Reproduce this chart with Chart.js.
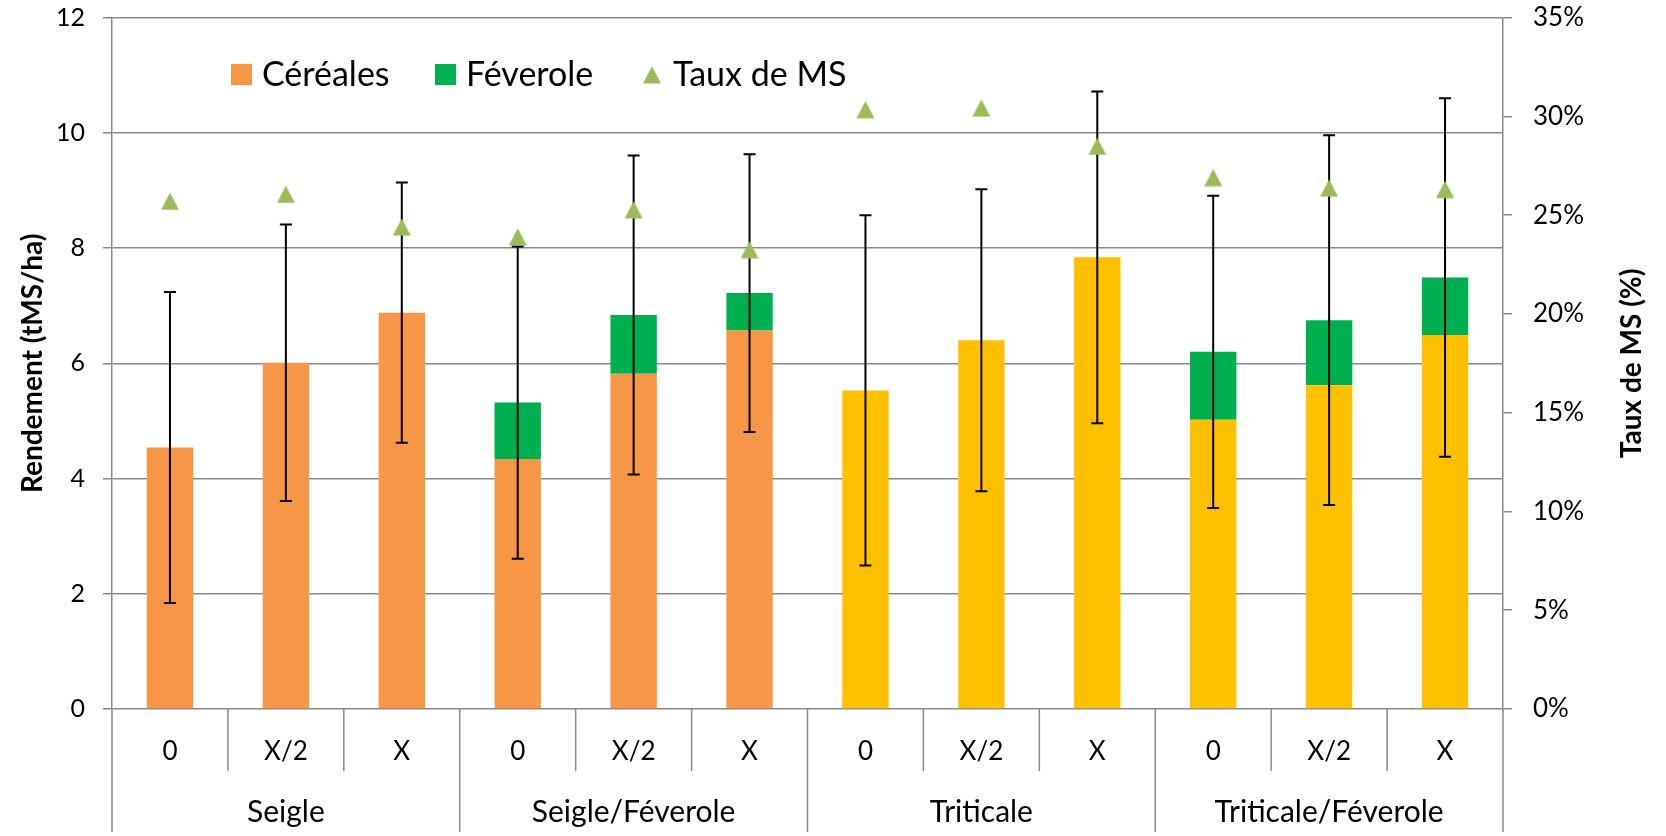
<!DOCTYPE html>
<html>
<head>
<meta charset="utf-8">
<script src="https://cdn.jsdelivr.net/npm/chart.js@4.4.0/dist/chart.umd.min.js"></script>
<style>
  html, body { margin: 0; padding: 0; background: #fff; }
  #wrap { width: 1666px; height: 836px; }
</style>
</head>
<body>
<div id="wrap"><canvas id="myChart"></canvas></div>
<script>
// categories
const groups = ['Seigle', 'Seigle/Féverole', 'Triticale', 'Triticale/Féverole'];
const doses = ['0', 'X/2', 'X'];

// rendement (tMS/ha), stacked
const cereales = [4.54, 6.01, 6.88, 4.34, 5.82, 6.57, 5.53, 6.40, 7.84, 5.02, 5.62, 6.49];
const feverole = [null, null, null, 0.98, 1.02, 0.65, null, null, null, 1.18, 1.13, 1.00];
// error bar half-length on the total
const ecartType = [2.70, 2.40, 2.26, 2.71, 2.77, 2.41, 3.04, 2.62, 2.88, 2.71, 3.21, 3.11];
// taux de MS (%)
const tauxMS = [25.7, 26.05, 24.4, 23.9, 25.27, 23.25, 30.34, 30.42, 28.48, 26.9, 26.37, 26.3];

const groupColors = ['#F79646', '#F79646', '#FFC000', '#FFC000'];
const GREEN = '#00B050';
const TRI = '#9BBB59';
const GRID = '#898989';

const labels = [];
const cerealColors = [];
groups.forEach((g, gi) => doses.forEach(d => {
    labels.push(d);
    cerealColors.push(groupColors[gi]);
}));

Chart.defaults.font.family = 'Lato, "Open Sans", sans-serif';
Chart.defaults.color = '#000';

// triangle marker like excel's
const tri = document.createElement('canvas');
tri.width = 18;
tri.height = 18;
const tctx = tri.getContext('2d');
tctx.fillStyle = TRI;
tctx.beginPath();
tctx.moveTo(9, 0.3);
tctx.lineTo(18, 17.6);
tctx.lineTo(0, 17.6);
tctx.closePath();
tctx.fill();

const errorBars = {
    id: 'errorBars',
    beforeDatasetDraw(chart, args) {
        if (args.index !== 0) return;
        const {ctx} = chart;
        const xs = chart.scales.x, ys = chart.scales.y;
        ctx.save();
        ctx.strokeStyle = '#000';
        ctx.lineWidth = 2;
        for (let i = 0; i < labels.length; i++) {
            const total = cereales[i] + (feverole[i] || 0);
            const x = xs.getPixelForValue(i);
            const yt = ys.getPixelForValue(total + ecartType[i]);
            const yb = ys.getPixelForValue(total - ecartType[i]);
            ctx.beginPath();
            ctx.moveTo(x, yt); ctx.lineTo(x, yb);
            ctx.moveTo(x - 6, yt); ctx.lineTo(x + 6, yt);
            ctx.moveTo(x - 6, yb); ctx.lineTo(x + 6, yb);
            ctx.stroke();
        }
        ctx.restore();
    }
};

const decorations = {
    id: 'decorations',
    afterDraw(chart) {
        const {ctx, chartArea} = chart;
        const xs = chart.scales.x;
        ctx.save();

        // category dividers under the axis
        ctx.strokeStyle = GRID;
        ctx.lineWidth = 1.5;
        const n = labels.length;
        const step = (chartArea.right - chartArea.left) / n;
        for (let k = 0; k <= n; k++) {
            const x = chartArea.left + k * step;
            const long = k % doses.length === 0;
            ctx.beginPath();
            ctx.moveTo(x, chartArea.bottom);
            ctx.lineTo(x, long ? 832 : 771);
            ctx.stroke();
        }

        // group labels
        ctx.fillStyle = '#000';
        ctx.font = '30px Lato';
        ctx.textAlign = 'center';
        ctx.textBaseline = 'alphabetic';
        groups.forEach((g, gi) => {
            const x = (xs.getPixelForValue(gi * 3) + xs.getPixelForValue(gi * 3 + 2)) / 2;
            ctx.fillText(g, x, 822);
        });

        // right axis title, reading upward
        ctx.save();
        ctx.translate(1632, (chartArea.top + chartArea.bottom) / 2);
        ctx.rotate(-Math.PI / 2);
        ctx.font = 'bold 28px Lato';
        ctx.textBaseline = 'middle';
        ctx.fillText('Taux de MS (%)', 0, 0);
        ctx.restore();

        // legend inside the plot
        ctx.textAlign = 'left';
        ctx.font = '34px Lato';
        ctx.fillStyle = groupColors[0];
        ctx.fillRect(231, 64, 21, 21);
        ctx.fillStyle = '#000';
        ctx.fillText('Céréales', 262, 86);
        ctx.fillStyle = GREEN;
        ctx.fillRect(435, 64, 21, 21);
        ctx.fillStyle = '#000';
        ctx.fillText('Féverole', 466, 86);
        ctx.drawImage(tri, 643, 66);
        ctx.fillText('Taux de MS', 673, 86);

        ctx.restore();
    }
};

// keep the plot top where the reference has it
const fitVertical = width => s => {
    s.width = width;
    s.paddingTop = 17.7;
    s.paddingBottom = 0;
};

new Chart(document.getElementById('myChart'), {
    type: 'bar',
    plugins: [errorBars, decorations],
    data: {
        labels: labels,
        datasets: [
            {
                type: 'line',
                label: 'Taux de MS',
                data: tauxMS,
                yAxisID: 'y2',
                showLine: false,
                pointStyle: tri,
                pointRadius: 9,
                pointHoverRadius: 9
            },
            {
                label: 'Céréales',
                data: cereales,
                backgroundColor: cerealColors,
                stack: 'rdt',
                barPercentage: 0.4,
                categoryPercentage: 1
            },
            {
                label: 'Féverole',
                data: feverole,
                backgroundColor: GREEN,
                stack: 'rdt',
                barPercentage: 0.4,
                categoryPercentage: 1
            }
        ]
    },
    options: {
        responsive: true,
        maintainAspectRatio: false,
        animation: false,
        layout: {padding: 0},
        plugins: {
            legend: {display: false},
            tooltip: {enabled: false}
        },
        scales: {
            x: {
                stacked: true,
                grid: {display: false, drawTicks: false},
                border: {display: false},
                ticks: {font: {size: 26}, padding: 27, maxRotation: 0, autoSkip: false},
                afterFit: s => { s.height = 127; }
            },
            y: {
                stacked: true,
                min: 0,
                max: 12,
                ticks: {stepSize: 2, font: {size: 25}, padding: 18},
                grid: {color: GRID, lineWidth: 1.5, tickLength: 9},
                border: {color: GRID, width: 1.5},
                title: {
                    display: true,
                    text: 'Rendement (tMS/ha)',
                    font: {size: 28, weight: 'bold', lineHeight: 1.2},
                    padding: {top: 16, bottom: 0}
                },
                afterFit: fitVertical(112)
            },
            y2: {
                position: 'right',
                min: 0,
                max: 35,
                ticks: {stepSize: 5, font: {size: 26}, padding: 21, callback: v => v + '%'},
                grid: {drawOnChartArea: false, color: GRID, lineWidth: 1.5, tickLength: 9},
                border: {color: GRID, width: 1.5},
                afterFit: fitVertical(163)
            }
        }
    }
});
</script>
</body>
</html>
